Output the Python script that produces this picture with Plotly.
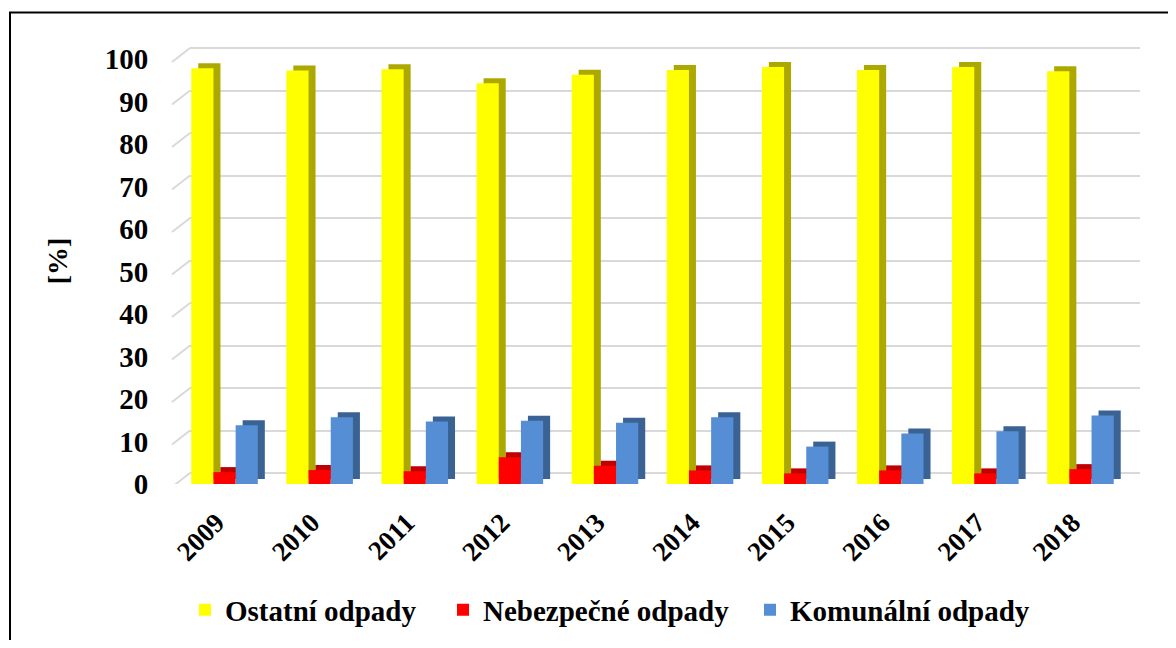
import plotly.graph_objects as go

# ---------------- data ----------------
years = ["2009", "2010", "2011", "2012", "2013", "2014", "2015", "2016", "2017", "2018"]
ostatni = [97.8, 97.3, 97.6, 94.3, 96.3, 97.4, 98.1, 97.4, 98.1, 97.1]
nebezpecne = [2.8, 3.3, 3.0, 6.3, 4.3, 3.2, 2.5, 3.2, 2.5, 3.5]
komunalni = [13.8, 15.7, 14.7, 14.9, 14.4, 15.7, 8.8, 11.9, 12.4, 16.1]
y_ticks = [0, 10, 20, 30, 40, 50, 60, 70, 80, 90, 100]

series_names = ["Ostatní odpady", "Nebezpečné odpady", "Komunální odpady"]
front_colors = ["#FFFF00", "#FF0000", "#558ED5"]
side_colors = ["#ADA800", "#C00000", "#3A6293"]

# ---------------- geometry (page pixels; body margin = 8 px) ----------------
OFF = 8
W, H = 1160, 632
L_PX, R_PX = 177 - OFF, 1140 - OFF   # front plot area left / right
WALL_L = 190 - OFF                    # back wall left edge
FLOOR_L = 172 - OFF                   # front-left corner of the floor
Y0_PX = 484 - OFF                     # value 0 on the front plane
S = 4.25                              # px per unit
Y_TOP = 105
CAT_PX = 95.1                         # px per category
DEPTH_DX, DEPTH_DY = 7, 5             # bar depth offset
WALL_DY = 11                          # back wall offset
FLOOR_DY = 14                         # side-wall diagonal rise

dom_x_front = [L_PX / W, R_PX / W]
dom_x_wall = [WALL_L / W, R_PX / W]
dom_y = [1 - Y0_PX / H, 1 - (Y0_PX - Y_TOP * S) / H]
x_span = (R_PX - L_PX) / CAT_PX
x_main = [-0.5, -0.5 + x_span]
x_side = [x_main[0] - DEPTH_DX / CAT_PX, x_main[1] - DEPTH_DX / CAT_PX]

FONT = "Liberation Serif, Times New Roman, serif"
GRID = "#D9D9D9"

fig = go.Figure()

# base subplot only carries the back-wall gridlines
fig.add_trace(go.Scatter(x=[None], y=[None], xaxis="x", yaxis="y",
                         showlegend=False, hoverinfo="skip"))

series = [ostatni, nebezpecne, komunalni]
# depth / side faces
for vals, col in zip(series, side_colors):
    fig.add_trace(go.Bar(x=years, y=vals, xaxis="x2", yaxis="y2",
                         marker=dict(color=col, line=dict(width=0)),
                         showlegend=False, hoverinfo="skip"))
# front faces
legend_ids = ["legend", "legend2", "legend3"]
for vals, name, col, lg in zip(series, series_names, front_colors, legend_ids):
    fig.add_trace(go.Bar(x=years, y=vals, name=name, xaxis="x3", yaxis="y3",
                         legend=lg, marker=dict(color=col, line=dict(width=0))))

# short diagonal side-wall gridline segments (from tick values, via the wall axis)
shapes = []
for v in y_ticks:
    shapes.append(dict(type="line", xref="paper", yref="y",
                       x0=FLOOR_L / W, x1=WALL_L / W, y0=v - FLOOR_DY / S, y1=v,
                       line=dict(color=GRID, width=2), layer="below"))
shapes.append(dict(type="rect", xref="paper", yref="paper",
                   x0=(10 - OFF) / W, x1=1.05, y0=-0.05, y1=1 - (12.5 - OFF) / H,
                   line=dict(color="black", width=2), fillcolor="rgba(0,0,0,0)",
                   layer="above"))

legend_font = dict(size=29, family=FONT, weight="bold")
legend_text_x = [225, 483, 790]
legends = {}
for lg, tx in zip(legend_ids, legend_text_x):
    legends[lg] = dict(orientation="h", x=(tx - 40 - OFF) / W, xanchor="left",
                       y=1 - (610 - OFF) / H, yanchor="middle", font=legend_font,
                       bgcolor="rgba(0,0,0,0)")

fig.update_layout(
    width=W, height=H,
    margin=dict(l=0, r=0, t=0, b=0),
    paper_bgcolor="white",
    plot_bgcolor="rgba(0,0,0,0)",
    barmode="group",
    bargap=0.3,
    bargroupgap=0,
    font=dict(family=FONT, color="black", size=26, weight="bold"),
    xaxis=dict(domain=dom_x_wall, range=[0, 1], visible=False, anchor="y"),
    yaxis=dict(domain=dom_y, range=[-WALL_DY / S, Y_TOP - WALL_DY / S], anchor="x",
               tickvals=y_ticks, showticklabels=False, showgrid=True,
               gridcolor=GRID, gridwidth=2, zeroline=False, showline=False,
               ticks="", automargin=False),
    xaxis2=dict(domain=dom_x_front, anchor="y2", type="category", categoryorder="array",
                categoryarray=years, range=x_side, visible=False),
    yaxis2=dict(domain=dom_y, anchor="x2", range=[-DEPTH_DY / S, Y_TOP - DEPTH_DY / S],
                visible=False),
    xaxis3=dict(overlaying="x2", anchor="y3", type="category", categoryorder="array",
                categoryarray=years, range=x_main, showgrid=False, zeroline=False,
                showline=False, tickangle=-45, ticks="outside", ticklen=11,
                tickcolor="rgba(0,0,0,0)", ticklabelshift=-8,
                tickfont=dict(size=27, family=FONT, weight="bold"),
                automargin=False),
    yaxis3=dict(overlaying="y2", anchor="x3", side="left", range=[0, Y_TOP],
                tickvals=y_ticks, showgrid=False, zeroline=False, showline=False,
                ticks="outside", ticklen=22, tickcolor="rgba(0,0,0,0)",
                tickfont=dict(size=29, family=FONT, weight="bold"),
                title=dict(text="[%]", font=dict(size=28, family=FONT, weight="bold"),
                           standoff=28),
                automargin=False),
    shapes=shapes,
    **legends,
)

fig.write_html("out.html")
